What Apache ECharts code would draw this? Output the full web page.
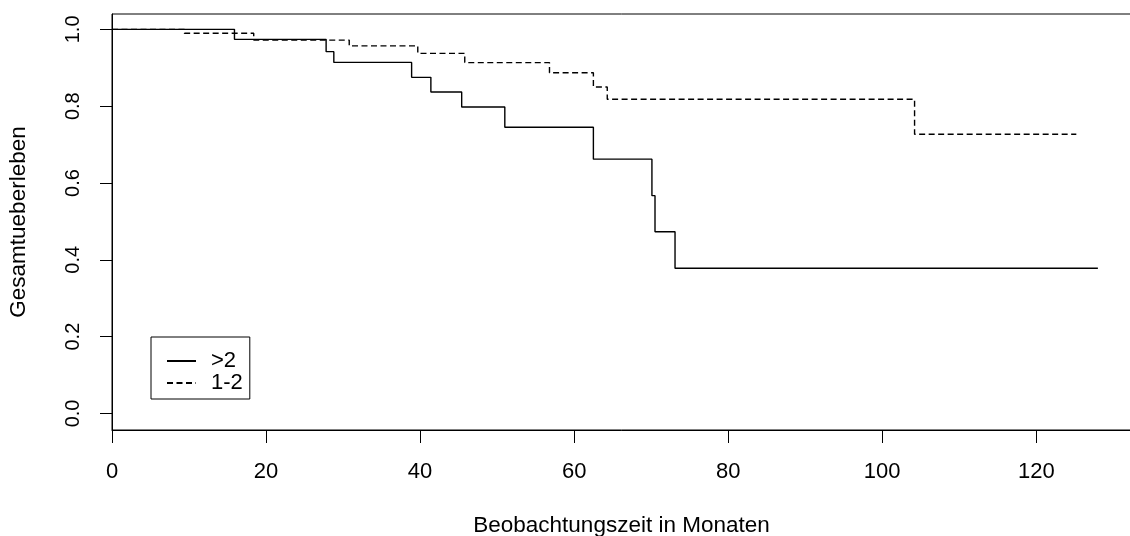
<!DOCTYPE html>
<html>
<head>
<meta charset="utf-8">
<script src="https://cdn.jsdelivr.net/npm/echarts@6/dist/echarts.min.js"></script>
<style>
  html, body { margin: 0; padding: 0; background: #fff; }
  #chart { width: 1130px; height: 536px; }
</style>
</head>
<body>
<div id="chart"></div>
<script>
// Kaplan-Meier steps
const timesHigh = [0, 15.9, 27.8, 28.8, 38.9, 41.4, 45.4, 51.0, 62.5, 70.1, 70.5, 73.1, 128.0]
const survHigh  = [1, 0.974, 0.942, 0.914, 0.875, 0.837, 0.798, 0.745, 0.662, 0.567, 0.473, 0.378, 0.378]

const timesLow = [0, 9.4, 18.4, 30.8, 39.7, 45.8, 56.8, 62.5, 64.3, 104.2, 125.2]
const survLow  = [1, 0.990, 0.972, 0.957, 0.9375, 0.9135, 0.887, 0.850, 0.818, 0.727, 0.727]

const xTicks = [0, 20, 40, 60, 80, 100, 120]
const yTicks = [0, 0.2, 0.4, 0.6, 0.8, 1.0]

const groupNames = [">2", "1-2"]

const FONT = "Liberation Sans, Arial, sans-serif"

function pairs(xs, ys) {
  return xs.map((x, i) => [x, ys[i]])
}

const chart = echarts.init(document.getElementById("chart"))

chart.setOption({
  animation: false,
  backgroundColor: "#fff",
  textStyle: { fontFamily: FONT, color: "#000" },
  grid: {
    left: 112,
    right: -1,
    top: 14,
    bottom: 106,
    outerBoundsMode: "none",
    show: true,
    borderColor: "#000",
    borderWidth: 1
  },
  legend: {
    left: 151,
    top: 337,
    orient: "vertical",
    borderColor: "#000",
    borderWidth: 1,
    padding: [13, 7, 5, 15],
    itemWidth: 29,
    itemHeight: 22,
    itemGap: 0,
    itemStyle: { opacity: 0 },
    textStyle: { fontSize: 22, fontFamily: FONT, color: "#000", padding: [0, 0, 0, 10] },
    data: groupNames
  },
  xAxis: {
    type: "value",
    min: 0,
    max: 132.3,
    name: "Beobachtungszeit in Monaten",
    nameLocation: "middle",
    nameGap: 84,
    nameTextStyle: { fontSize: 22.5, color: "#000" },
    axisLine: { show: true, onZero: false, lineStyle: { color: "#000", width: 1 } },
    axisTick: { show: true, length: 13, customValues: xTicks, lineStyle: { color: "#000" } },
    axisLabel: { fontSize: 22, color: "#000", margin: 31, customValues: xTicks },
    splitLine: { show: false }
  },
  yAxis: {
    type: "value",
    min: -0.0432,
    max: 1.04,
    name: "Gesamtueberleben",
    nameLocation: "middle",
    nameRotate: 90,
    nameGap: 82,
    nameTextStyle: { fontSize: 22.5, color: "#000" },
    axisLine: { show: true, onZero: false, lineStyle: { color: "#000", width: 1 } },
    axisTick: { show: true, length: 12, customValues: yTicks, lineStyle: { color: "#000" } },
    axisLabel: {
      fontSize: 20,
      color: "#000",
      rotate: 90,
      margin: 29,
      customValues: yTicks,
      formatter: v => v.toFixed(1)
    },
    splitLine: { show: false }
  },
  series: [
    {
      name: groupNames[0],
      type: "line",
      step: "end",
      symbol: "none",
      data: pairs(timesHigh, survHigh),
      lineStyle: { color: "#000", width: 1.4, type: "solid" },
      itemStyle: { color: "#000" }
    },
    {
      name: groupNames[1],
      type: "line",
      step: "end",
      symbol: "none",
      data: pairs(timesLow, survLow),
      lineStyle: { color: "#000", width: 1.4, type: [6, 3.5] },
      itemStyle: { color: "#000" }
    }
  ]
})
</script>
</body>
</html>
